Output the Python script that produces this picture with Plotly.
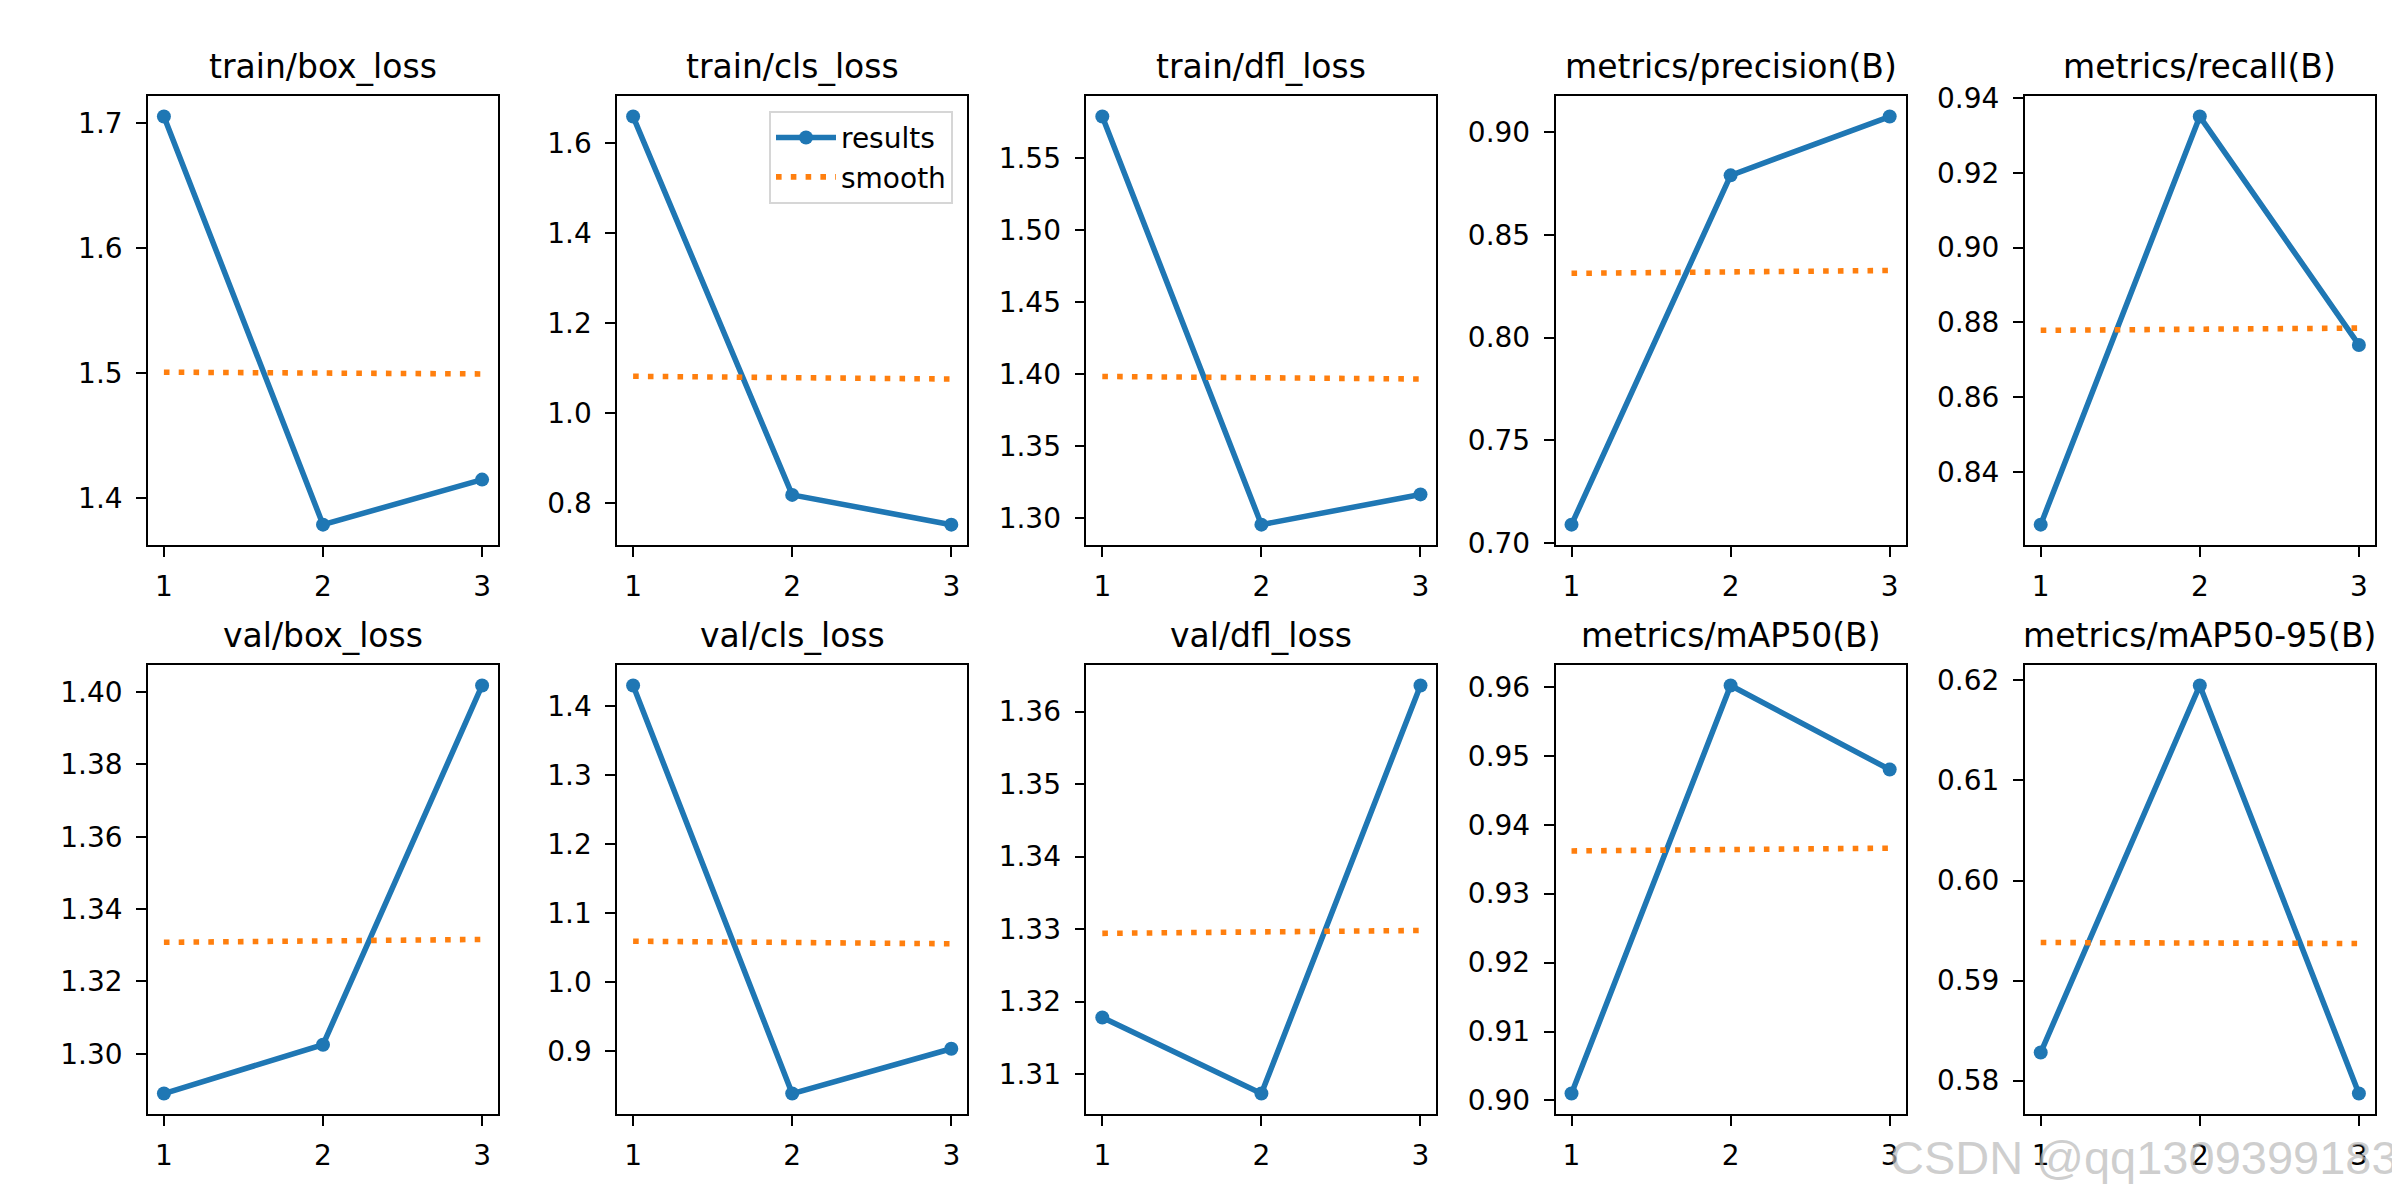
import plotly.graph_objects as go

# ---------------- data ----------------
epochs = [1, 2, 3]

titles = ["train/box_loss", "train/cls_loss", "train/dfl_loss", "metrics/precision(B)", "metrics/recall(B)",
          "val/box_loss", "val/cls_loss", "val/dfl_loss", "metrics/mAP50(B)", "metrics/mAP50-95(B)"]

train_box_loss = [1.705, 1.379, 1.415]
train_cls_loss = [1.658, 0.819, 0.753]
train_dfl_loss = [1.579, 1.2954, 1.3164]
precision_b = [0.709, 0.879, 0.9076]
recall_b = [0.826, 0.935, 0.874]
val_box_loss = [1.289, 1.3025, 1.4018]
val_cls_loss = [1.430, 0.838, 0.903]
val_dfl_loss = [1.3178, 1.3073, 1.3636]
map50_b = [0.901, 0.9602, 0.948]
map50_95_b = [0.5828, 0.6195, 0.5787]

train_box_smooth = [1.5008, 1.5001, 1.4994]
train_cls_smooth = [1.082, 1.079, 1.076]
train_dfl_smooth = [1.3984, 1.3975, 1.3966]
precision_smooth = [0.8313, 0.8320, 0.8327]
recall_smooth = [0.8779, 0.8782, 0.8785]
val_box_smooth = [1.3308, 1.3312, 1.3316]
val_cls_smooth = [1.0590, 1.0572, 1.0553]
val_dfl_smooth = [1.3294, 1.3296, 1.3298]
map50_smooth = [0.9362, 0.9364, 0.9366]
map50_95_smooth = [0.5938, 0.5937, 0.5937]

results = [train_box_loss, train_cls_loss, train_dfl_loss, precision_b, recall_b,
           val_box_loss, val_cls_loss, val_dfl_loss, map50_b, map50_95_b]
smooths = [train_box_smooth, train_cls_smooth, train_dfl_smooth, precision_smooth, recall_smooth,
           val_box_smooth, val_cls_smooth, val_dfl_smooth, map50_smooth, map50_95_smooth]

ytick_steps = [0.1, 0.2, 0.05, 0.05, 0.02, 0.02, 0.1, 0.01, 0.01, 0.01]
ytick_formats = [".1f", ".1f", ".2f", ".2f", ".2f", ".2f", ".1f", ".2f", ".2f", ".2f"]
xtick_labels = ["1", "2", "3"]

watermark = "CSDN @qq1309399183"

# ---------------- style / layout ----------------
W, H = 2400, 1200
C0, C1 = "#1f77b4", "#ff7f0e"
FONT = "DejaVu Sans"
LW = 5.56
col_left0, col_step, col_w = 140.0, 469.2, 350.0
row_tops = [76.0, 659.0]
row_h = 460.0

fig = go.Figure()
annotations = []

for i in range(10):
    r, c = divmod(i, 5)
    ax = "" if i == 0 else str(i + 1)
    xa, ya = "x" + ax, "y" + ax
    x0 = (col_left0 + c * col_step) / W
    x1 = (col_left0 + c * col_step + col_w) / W
    y1 = 1 - row_tops[r] / H
    y0 = 1 - (row_tops[r] + row_h) / H

    fig.add_trace(go.Scatter(
        x=epochs, y=results[i], mode="lines+markers", name="results",
        line=dict(color=C0, width=LW), marker=dict(color=C0, size=14),
        xaxis=xa, yaxis=ya, showlegend=(i == 1), legendrank=1))
    fig.add_trace(go.Scatter(
        x=epochs, y=smooths[i], mode="lines", name="smooth",
        line=dict(color=C1, width=LW, dash="5.6px,9.2px"),
        xaxis=xa, yaxis=ya, showlegend=(i == 1), legendrank=2))

    allv = results[i] + smooths[i]
    lo, hi = min(allv), max(allv)
    pad = 0.05 * (hi - lo)
    common = dict(showline=True, mirror=True, linecolor="black", linewidth=2.2,
                  showgrid=False, zeroline=False, ticks="outside", ticklen=9.7,
                  tickwidth=2.2, tickcolor="black",
                  tickfont=dict(family=FONT, size=28, color="black"))
    fig.layout["xaxis" + ax] = dict(domain=[x0, x1], anchor=ya, range=[0.9, 3.1],
                                    tickvals=epochs, ticktext=xtick_labels,
                                    ticklabelstandoff=6, **common)
    fig.layout["yaxis" + ax] = dict(domain=[y0, y1], anchor=xa, range=[lo - pad, hi + pad],
                                    tick0=0, dtick=ytick_steps[i], tickformat=ytick_formats[i],
                                    ticklabelstandoff=8, **common)
    annotations.append(dict(text=titles[i], x=(x0 + x1) / 2, y=y1, xref="paper", yref="paper",
                            xanchor="center", yanchor="bottom", yshift=8, showarrow=False,
                            font=dict(family=FONT, size=33, color="black")))

annotations.append(dict(text=watermark, x=1880 / W, y=1 - 1164 / H, xref="paper", yref="paper",
                        xanchor="left", yanchor="middle", showarrow=False,
                        font=dict(family="Liberation Sans", size=47, color="rgba(185,185,185,0.7)")))

fig.update_layout(
    width=W, height=H, margin=dict(l=0, r=0, t=0, b=0),
    paper_bgcolor="white", plot_bgcolor="white",
    annotations=annotations,
    legend=dict(x=945 / W, y=1 - 91 / H, xanchor="right", yanchor="top",
                bgcolor="rgba(255,255,255,0.8)", bordercolor="#d6d6d6", borderwidth=2,
                font=dict(family=FONT, size=28, color="black"), itemwidth=60,
                tracegroupgap=0),
    font=dict(family=FONT),
)

fig.write_html("out.html")
